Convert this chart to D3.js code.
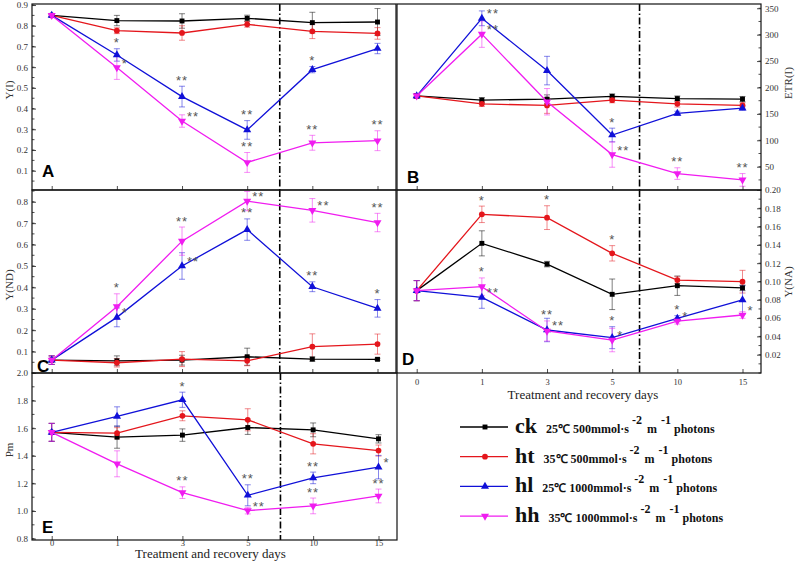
<!DOCTYPE html>
<html>
<head>
<meta charset="utf-8">
<script src="https://cdn.jsdelivr.net/npm/d3@7"></script>
<style>
body { margin: 0; background: #fff; }
svg { display: block; }
</style>
</head>
<body>
<div id="chart"></div>
<script>
// categories and series names
const days = ["0", "1", "3", "5", "10", "15"];
const groups = ["ck", "ht", "hl", "hh"];
const groupLabels = ["25\u2103 500mmol\u00b7s", "35\u2103 500mmol\u00b7s", "25\u2103 1000mmol\u00b7s", "35\u2103 1000mmol\u00b7s"];

// A: Y(I), rows = ck, ht, hl, hh
const yiValues = [
    [0.85, 0.825, 0.823, 0.836, 0.815, 0.818],
    [0.85, 0.776, 0.765, 0.807, 0.773, 0.763],
    [0.85, 0.659, 0.458, 0.297, 0.588, 0.69],
    [0.85, 0.598, 0.34, 0.14, 0.235, 0.245]
];
const yiErrors = [
    [0.005, 0.025, 0.035, 0.015, 0.05, 0.065],
    [0.005, 0.014, 0.035, 0.014, 0.035, 0.028],
    [0.005, 0.03, 0.05, 0.045, 0.015, 0.025],
    [0.005, 0.057, 0.03, 0.048, 0.036, 0.048]
];
const yiStars = [[2, 1, "*", "up"], [3, 1, "*", "right"], [2, 2, "**", "up"], [3, 2, "**", "right"], [2, 3, "**", "up"],
    [3, 3, "**", "up"], [2, 4, "*", "up"], [3, 4, "**", "up"], [3, 5, "**", "up"]];
const yiTicks = [0.1, 0.2, 0.3, 0.4, 0.5, 0.6, 0.7, 0.8, 0.9];

// B: ETR(I)
const etrValues = [
    [184, 176, 178, 183, 179, 178],
    [184, 169, 166, 176, 169, 166],
    [184, 331, 232, 110, 151, 161],
    [184, 301, 173, 73, 37, 25]
];
const etrErrors = [
    [4, 5, 8, 5, 5, 5],
    [4, 5, 15, 5, 6, 5],
    [4, 14, 27, 13, 4, 4],
    [4, 25, 25, 24, 11, 12]
];
const etrStars = [[2, 1, "**", "right"], [3, 1, "**", "right"], [2, 3, "*", "up"], [3, 3, "**", "right"], [3, 4, "**", "up"], [3, 5, "**", "up"]];
const etrTicks = [50, 100, 150, 200, 250, 300, 350];

// C: Y(ND)
const ndValues = [
    [0.06, 0.057, 0.06, 0.076, 0.065, 0.064],
    [0.06, 0.048, 0.065, 0.057, 0.123, 0.135],
    [0.06, 0.26, 0.5, 0.67, 0.403, 0.302],
    [0.06, 0.31, 0.616, 0.803, 0.76, 0.703]
];
const ndErrors = [
    [0.02, 0.023, 0.023, 0.04, 0.01, 0.005],
    [0.02, 0.02, 0.035, 0.023, 0.06, 0.047],
    [0.02, 0.044, 0.062, 0.05, 0.023, 0.041],
    [0.02, 0.06, 0.066, 0.045, 0.055, 0.043]
];
const ndStars = [[3, 1, "*", "up"], [2, 1, "*", "right"], [3, 2, "**", "up"], [2, 2, "**", "right"], [3, 3, "**", "right"],
    [2, 3, "**", "up"], [3, 4, "**", "right"], [2, 4, "**", "up"], [3, 5, "**", "up"], [2, 5, "*", "up"]];
const ndTicks = [0.1, 0.2, 0.3, 0.4, 0.5, 0.6, 0.7, 0.8];

// D: Y(NA)
const naValues = [
    [0.09, 0.1417, 0.119, 0.086, 0.0954, 0.093],
    [0.09, 0.1734, 0.1698, 0.1308, 0.1016, 0.0998],
    [0.09, 0.0827, 0.047, 0.0386, 0.0597, 0.0798],
    [0.09, 0.0944, 0.0459, 0.036, 0.0568, 0.0634]
];
const naErrors = [
    [0.011, 0.0137, 0.003, 0.0167, 0.0106, 0.003],
    [0.011, 0.009, 0.013, 0.0084, 0.0036, 0.0124],
    [0.011, 0.012, 0.0128, 0.012, 0.003, 0.0155],
    [0.011, 0.0095, 0.011, 0.0128, 0.0033, 0.0036]
];
const naStars = [[1, 1, "*", "up"], [1, 2, "*", "up"], [1, 3, "*", "up"], [3, 1, "*", "up"], [2, 1, "**", "right"], [3, 2, "**", "up"],
    [2, 2, "**", "right"], [2, 3, "*", "up"], [3, 3, "*", "right"], [2, 4, "*", "up"], [3, 4, "*", "right"], [3, 5, "*", "right"]];
const naTicks = [0.02, 0.04, 0.06, 0.08, 0.10, 0.12, 0.14, 0.16, 0.18, 0.20];

// E: Pm
const pmValues = [
    [1.57, 1.535, 1.55, 1.605, 1.588, 1.523],
    [1.57, 1.564, 1.69, 1.661, 1.487, 1.438],
    [1.57, 1.685, 1.806, 1.114, 1.24, 1.318],
    [1.57, 1.342, 1.133, 1.003, 1.037, 1.109]
];
const pmErrors = [
    [0.065, 0.08, 0.045, 0.05, 0.05, 0.03],
    [0.065, 0.04, 0.036, 0.08, 0.073, 0.04],
    [0.065, 0.07, 0.055, 0.076, 0.042, 0.085],
    [0.065, 0.094, 0.042, 0.024, 0.057, 0.05]
];
const pmStars = [[2, 2, "*", "up"], [3, 2, "**", "up"], [2, 3, "**", "up"], [3, 3, "**", "right"], [2, 4, "**", "up"],
    [3, 4, "**", "up"], [2, 5, "*", "right"], [3, 5, "**", "up"]];
const pmTicks = [0.8, 1.0, 1.2, 1.4, 1.6, 1.8, 2.0];

// styles
const colors = ["#000000", "#e4161c", "#1010d8", "#f01cf0"];
const serif = "'Liberation Serif', 'Times New Roman', serif";
const w = 796, h = 561;

const svg = d3.select("#chart").append("svg").attr("width", w).attr("height", h);

// panel layout
const panels = [
    { letter: "A", values: yiValues, errors: yiErrors, stars: yiStars, ticks: yiTicks, fmt: d3.format(".1f"), minor: 0.05,
      left: 32, right: 396, top: 4, bottom: 190, domain: [0.007, 0.905], side: "left", title: "Y(I)", titleY: 90,
      breakAt: 0.5, letterPos: [42, 177] },
    { letter: "B", values: etrValues, errors: etrErrors, stars: etrStars, ticks: etrTicks, fmt: d3.format("d"), minor: 25,
      left: 397, right: 761, top: 4, bottom: 190, domain: [5.9, 358.1], side: "right", title: "ETR(I)", titleY: 83,
      breakAt: 0.42, letterPos: [407, 183] },
    { letter: "C", values: ndValues, errors: ndErrors, stars: ndStars, ticks: ndTicks, fmt: d3.format(".1f"), minor: 0.05,
      left: 32, right: 396, top: 190, bottom: 373, domain: [0, 0.855], side: "left", title: "Y(ND)", titleY: 285,
      breakAt: 0.5, letterPos: [37, 372] },
    { letter: "D", values: naValues, errors: naErrors, stars: naStars, ticks: naTicks, fmt: d3.format(".2f"), minor: 0.01,
      left: 397, right: 761, top: 190, bottom: 373, domain: [0, 0.2], side: "right", title: "Y(NA)", titleY: 282,
      breakAt: 0.42, letterPos: [402, 365], xLabels: true, xPad: 6, xTitleGap: 26 },
    { letter: "E", values: pmValues, errors: pmErrors, stars: pmStars, ticks: pmTicks, fmt: d3.format(".1f"), minor: 0.1,
      left: 32, right: 397, top: 373, bottom: 540, domain: [0.79, 2.0], side: "left", title: "Pm", titleY: 450,
      breakAt: 0.5, letterPos: [42, 533], xLabels: true, xPad: -0.5, xTitleGap: 18 }
];

const symbolPath = (i) => {
    if (i === 0) return d3.symbol(d3.symbolSquare, 24)();
    if (i === 1) return d3.symbol(d3.symbolCircle, 26)();
    return d3.symbol(d3.symbolTriangle, 28)();
};

panels.forEach((p) => {
    const g = svg.append("g");
    const x = d3.scalePoint().domain(days).range([p.left + 19.7, p.right - 18.5]);
    const y = d3.scaleLinear().domain(p.domain).range([p.bottom, p.top]);

    // minor ticks
    const minors = d3.range(Math.ceil(p.domain[0] / p.minor) * p.minor, p.domain[1], p.minor);
    const ax = p.side === "left" ? p.left : p.right;
    const dir = p.side === "left" ? 1 : -1;
    g.append("g").selectAll("line").data(minors).join("line")
        .attr("x1", ax).attr("x2", ax + dir * 2.5)
        .attr("y1", (d) => y(d)).attr("y2", (d) => y(d))
        .attr("stroke", "#222").attr("stroke-width", 0.8);

    // y axis
    const yAxis = (p.side === "left" ? d3.axisLeft(y) : d3.axisRight(y))
        .tickValues(p.ticks).tickFormat(p.fmt).tickSize(-4).tickPadding(4);
    const ya = g.append("g").attr("transform", "translate(" + ax + ",0)").call(yAxis);
    ya.select(".domain").remove();
    ya.selectAll("line").attr("stroke", "#222").attr("stroke-width", 0.8);
    ya.selectAll("text").attr("font-family", serif).attr("font-size", 9).attr("fill", "#333");

    // x axis
    const xAxis = d3.axisBottom(x).tickSize(-4).tickPadding(p.xPad === undefined ? 6 : p.xPad);
    if (!p.xLabels) xAxis.tickFormat("");
    const xa = g.append("g").attr("transform", "translate(0," + p.bottom + ")").call(xAxis);
    xa.select(".domain").remove();
    xa.selectAll("line").attr("stroke", "#222").attr("stroke-width", 0.8);
    xa.selectAll("text").attr("font-family", serif).attr("font-size", 8.5).attr("fill", "#333");

    // axis titles
    const tx = p.side === "left" ? p.left - 19 : p.right + 31;
    g.append("text")
        .attr("transform", "translate(" + tx + "," + p.titleY + ") rotate(-90)")
        .attr("text-anchor", "middle")
        .attr("font-family", serif).attr("font-size", 11).attr("fill", "#333")
        .text(p.title);
    if (p.xLabels) {
        g.append("text")
            .attr("x", (p.left + p.right) / 2 + (p.side === "left" ? -4 : 4))
            .attr("y", p.bottom + p.xTitleGap)
            .attr("text-anchor", "middle")
            .attr("font-family", serif).attr("font-size", 13).attr("fill", "#222")
            .text("Treatment and recovery days");
    }

    // dash-dot separator between treatment and recovery
    const bx = x(days[3]) + p.breakAt * (x(days[4]) - x(days[3]));
    g.append("line")
        .attr("x1", bx).attr("x2", bx).attr("y1", p.top).attr("y2", p.bottom)
        .attr("stroke", "#000").attr("stroke-width", 1.6)
        .attr("stroke-dasharray", "7,2.5,1.5,2.5");

    // error bars
    p.values.forEach((vals, si) => {
        const eb = g.append("g").attr("stroke", colors[si]).attr("stroke-opacity", 0.5).attr("stroke-width", 1);
        vals.forEach((v, di) => {
            const e = p.errors[si][di];
            const cx = x(days[di]);
            eb.append("line").attr("x1", cx).attr("x2", cx).attr("y1", y(v - e)).attr("y2", y(v + e));
            eb.append("line").attr("x1", cx - 3).attr("x2", cx + 3).attr("y1", y(v - e)).attr("y2", y(v - e));
            eb.append("line").attr("x1", cx - 3).attr("x2", cx + 3).attr("y1", y(v + e)).attr("y2", y(v + e));
        });
    });

    // lines and markers
    const line = d3.line().x((d, i) => x(days[i])).y((d) => y(d));
    p.values.forEach((vals, si) => {
        g.append("path").datum(vals)
            .attr("fill", "none").attr("stroke", colors[si]).attr("stroke-width", 1.3)
            .attr("d", line);
        g.append("g").selectAll("path").data(vals).join("path")
            .attr("d", symbolPath(si))
            .attr("transform", (d, i) => "translate(" + x(days[i]) + "," + y(d) + ")" + (si === 3 ? " rotate(180)" : ""))
            .attr("fill", colors[si]);
    });

    // significance marks
    g.append("g").selectAll("text").data(p.stars).join("text")
        .attr("x", (s) => s[3] === "up" ? x(days[s[1]]) : x(days[s[1]]) + 5)
        .attr("y", (s) => {
            const v = p.values[s[0]][s[1]];
            const e = p.errors[s[0]][s[1]];
            return s[3] === "up" ? y(v + e) - 1.5 : y(v);
        })
        .attr("text-anchor", (s) => s[3] === "up" ? "middle" : "start")
        .attr("font-family", "'Liberation Sans', Arial, sans-serif")
        .attr("font-size", 13).attr("fill", "#555")
        .attr("letter-spacing", 1)
        .text((s) => s[2]);

    // frame
    g.append("rect")
        .attr("x", p.left).attr("y", p.top)
        .attr("width", p.right - p.left).attr("height", p.bottom - p.top)
        .attr("fill", "none").attr("stroke", "#111").attr("stroke-width", 1.2);

    // panel letter
    g.append("text")
        .attr("x", p.letterPos[0]).attr("y", p.letterPos[1])
        .attr("font-family", "'Liberation Sans', Arial, sans-serif")
        .attr("font-weight", "bold").attr("font-size", 17)
        .text(p.letter);
});

// legend
const legend = svg.append("g").attr("transform", "translate(460,427)");
groups.forEach((name, i) => {
    const row = legend.append("g").attr("transform", "translate(0," + (i * 29.7) + ")");
    row.append("line").attr("x1", 0).attr("x2", 48).attr("y1", 0).attr("y2", 0)
        .attr("stroke", colors[i]).attr("stroke-width", 1.3);
    row.append("path").attr("d", symbolPath(i))
        .attr("transform", "translate(25,0)" + (i === 3 ? " rotate(180)" : ""))
        .attr("fill", colors[i]);
    const t = row.append("text").attr("x", 55).attr("y", 6)
        .attr("font-family", serif).attr("font-weight", "bold").attr("fill", "#111");
    t.append("tspan").attr("font-size", 22).text(name);
    t.append("tspan").attr("font-size", 12).attr("dx", 9).text(groupLabels[i]);
    t.append("tspan").attr("font-size", 12).attr("dx", 3).attr("dy", -9).text("-2");
    t.append("tspan").attr("font-size", 12).attr("dx", 5).attr("dy", 9).text("m");
    t.append("tspan").attr("font-size", 12).attr("dx", 4).attr("dy", -9).text("-1");
    t.append("tspan").attr("font-size", 12).attr("dx", 3).attr("dy", 9).text("photons");
});
</script>
</body>
</html>
